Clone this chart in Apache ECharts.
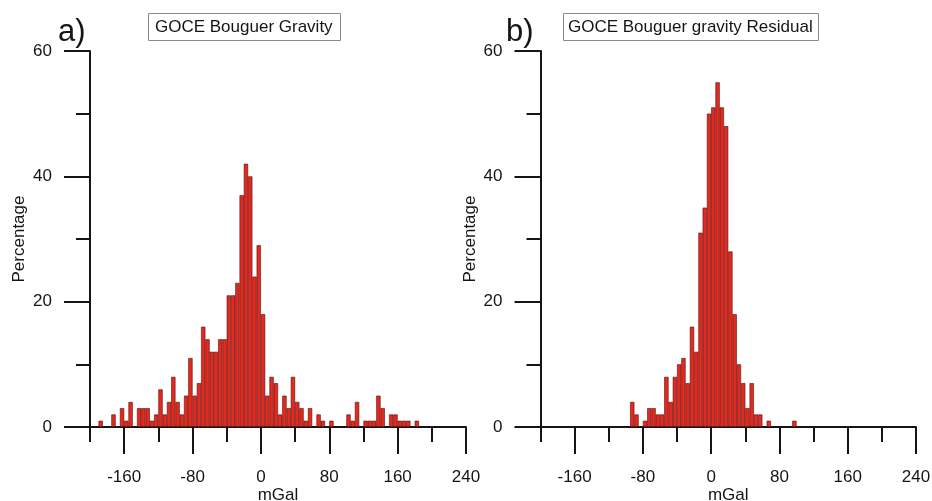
<!DOCTYPE html>
<html style="height: 100%">
<head>
<meta charset="utf-8">
</head>
<body style="height: 100%; margin: 0; background: #fff">
<div id="container" style="width: 932px; height: 501px"></div>
<script type="text/javascript" src="https://cdn.jsdelivr.net/npm/echarts@6/dist/echarts.min.js"></script>
<script type="text/javascript">
// histogram bins: 5 mGal wide, from -200 to 240
var binStart = -200, binWidth = 5, binCount = 88;
var bins = [];
for (var i = 0; i < binCount; i++) bins.push(String(binStart + i * binWidth));

// percentage per bin
var gravityValues = [
  0, 0, 1, 0, 0, 2, 0, 3, 1, 4,
  0, 3, 3, 3, 1, 2, 6, 2, 4, 8,
  4, 2, 5, 11, 5, 7, 16, 14, 12, 12,
  14, 14, 21, 21, 23, 37, 42, 40, 24, 29,
  18, 5, 8, 7, 2, 5, 3, 8, 4, 3,
  1, 3, 0, 2, 1, 0, 1, 0, 0, 0,
  2, 1, 4, 0, 1, 1, 1, 5, 3, 0,
  2, 2, 1, 1, 1, 0, 1, 0, 0, 0,
  0, 0, 0, 0, 0, 0, 0, 0
];
var residualValues = [
  0, 0, 0, 0, 0, 0, 0, 0, 0, 0,
  0, 0, 0, 0, 0, 0, 0, 0, 0, 0,
  0, 4, 2, 0, 1, 3, 3, 2, 2, 8,
  4, 8, 10, 11, 7, 16, 12, 31, 35, 50,
  51, 55, 51, 48, 28, 18, 10, 7, 3, 7,
  2, 2, 0, 1, 0, 0, 0, 0, 0, 1,
  0, 0, 0, 0, 0, 0, 0, 0, 0, 0,
  0, 0, 0, 0, 0, 0, 0, 0, 0, 0,
  0, 0, 0, 0, 0, 0, 0, 0
];

var majorTicks = [-160, -80, 0, 80, 160, 240];
var minorTicks = [-200, -120, -40, 40, 120, 200];
var panelTitles = ['GOCE Bouguer Gravity', 'GOCE Bouguer gravity Residual'];
var panelLetters = ['a)', 'b)'];

var font = 'Liberation Sans, Arial, sans-serif';
var ink = '#151515';

var dom = document.getElementById('container');
var myChart = echarts.init(dom, null, {renderer: 'canvas'});

var grids = [
  {left: 90, top: 51, width: 376, height: 376, outerBoundsMode: 'none', containLabel: false},
  {left: 540.5, top: 51, width: 375.5, height: 376, outerBoundsMode: 'none', containLabel: false}
];

var xAxes = [], yAxes = [], series = [];
[gravityValues, residualValues].forEach(function (vals, g) {
  xAxes.push({
    type: 'value', gridIndex: g, min: -200, max: 240, position: 'bottom',
    name: 'mGal', nameLocation: 'middle', nameGap: 60, nameMoveOverlap: false,
    nameTextStyle: {fontFamily: font, fontSize: 17, color: ink},
    axisLine: {show: true, onZero: false, lineStyle: {color: ink, width: 2}},
    axisTick: {show: true, customValues: majorTicks, length: 27, lineStyle: {color: ink, width: 2}},
    axisLabel: {customValues: majorTicks, margin: 42, fontFamily: font, fontSize: 17, color: ink, showMinLabel: true, showMaxLabel: true},
    splitLine: {show: false}
  });
  xAxes.push({
    type: 'value', gridIndex: g, min: -200, max: 240, position: 'bottom',
    axisLine: {show: false, onZero: false},
    axisTick: {show: true, customValues: minorTicks, length: 15, lineStyle: {color: ink, width: 2}},
    axisLabel: {show: false},
    splitLine: {show: false}
  });
  xAxes.push({
    type: 'category', gridIndex: g, data: bins, show: false, boundaryGap: true
  });
  yAxes.push({
    type: 'value', gridIndex: g, min: 0, max: 60, interval: 20,
    name: 'Percentage', nameLocation: 'middle', nameGap: 62, nameMoveOverlap: false,
    nameTextStyle: {fontFamily: font, fontSize: 17, color: ink},
    axisLine: {show: true, onZero: false, lineStyle: {color: ink, width: 2}},
    axisTick: {show: true, length: 26, lineStyle: {color: ink, width: 2}},
    minorTick: {show: true, splitNumber: 2, length: 14, lineStyle: {color: ink, width: 2}},
    axisLabel: {margin: 38, fontFamily: font, fontSize: 17, color: ink},
    splitLine: {show: false}
  });
  series.push({
    type: 'bar',
    xAxisIndex: g * 3 + 2,
    yAxisIndex: g,
    barWidth: '100%',
    barCategoryGap: 0,
    data: vals.map(function (v) { return v === 0 ? '-' : v; }),
    itemStyle: {color: '#e8281e', borderColor: '#4a120e', borderWidth: 0.6},
    silent: true
  });
});

var option = {
  backgroundColor: '#ffffff',
  animation: false,
  title: [
    {text: panelLetters[0], left: 58, top: 17, padding: 0, textStyle: {fontFamily: font, fontSize: 31, fontWeight: 'normal', color: ink}},
    {text: panelLetters[1], left: 506, top: 17, padding: 0, textStyle: {fontFamily: font, fontSize: 31, fontWeight: 'normal', color: ink}},
    {text: panelTitles[0], left: 148, top: 13, padding: [6, 8, 5, 7], borderColor: '#8a8a8a', borderWidth: 1,
      textStyle: {fontFamily: font, fontSize: 17, fontWeight: 'normal', color: ink}},
    {text: panelTitles[1], left: 563, top: 13, padding: [6, 6, 5, 5], borderColor: '#8a8a8a', borderWidth: 1,
      textStyle: {fontFamily: font, fontSize: 17, fontWeight: 'normal', color: ink}}
  ],
  grid: grids,
  xAxis: xAxes,
  yAxis: yAxes,
  series: series
};
myChart.setOption(option);
</script>
</body>
</html>
